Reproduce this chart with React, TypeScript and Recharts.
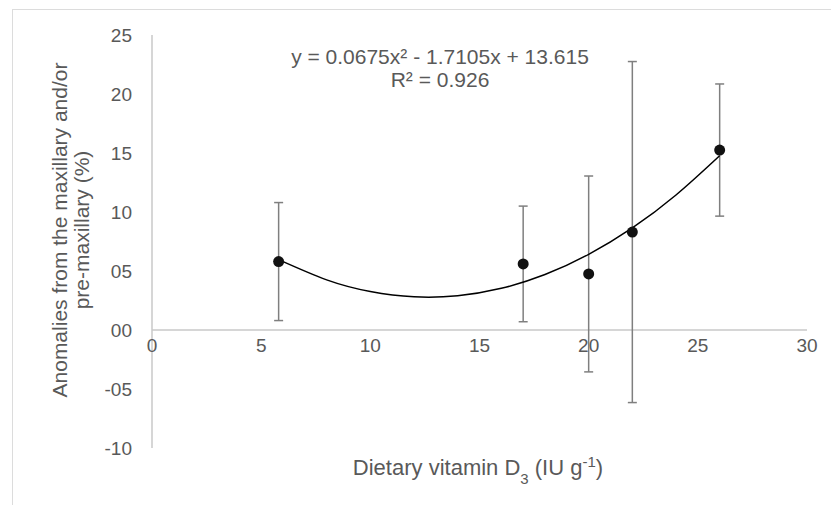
import React from 'react';
import { ComposedChart, Scatter, Line, XAxis, YAxis, ErrorBar, ReferenceLine } from 'recharts';

const doses = [5.8, 17, 20, 22, 26];
const anomalies = [5.8, 5.6, 4.75, 8.3, 15.25];
const errors = [5.0, 4.9, 8.3, 14.45, 5.6];

const trendX = [5.8, 8, 10, 12, 14, 16, 18, 20, 22, 24, 26];
const trendY = [5.96, 4.25, 3.26, 2.81, 2.9, 3.53, 4.7, 6.41, 8.65, 11.44, 14.77];

const xTicks = [0, 5, 10, 15, 20, 25, 30];
const yTicks = [-10, -5, 0, 5, 10, 15, 20, 25];

const equationText = 'y = 0.0675x² - 1.7105x + 13.615';
const r2Text = 'R² = 0.926';
const yTitle1 = 'Anomalies from the maxillary and/or';
const yTitle2 = 'pre-maxillary (%)';

const points = doses.map((x, i) => ({ x, y: anomalies[i], err: errors[i] }));
const trend = trendX.map((x, i) => ({ x, y: trendY[i] }));

const FONT = "'Liberation Sans', Arial, sans-serif";
const TXT = '#595959';
const AXIS = '#c8c8c8';
const FS = 19;
const FT = 21;
const X_LABEL_SHIFT = 109;

const fmtY = (v: number) => {
  const a = Math.abs(v);
  const s = a < 10 ? '0' + a : String(a);
  return v < 0 ? '-' + s : s;
};

const XTick = (props: any) => {
  const { x, y, payload } = props;
  return (
    <text x={x} y={y - X_LABEL_SHIFT} dy="0.71em" textAnchor="middle" fill={TXT} fontSize={FS} fontFamily={FONT}>
      {payload.value}
    </text>
  );
};

const Dot = (props: any) => <circle cx={props.cx} cy={props.cy} r={5.5} fill="#111" />;

export default function App() {
  return (
    <div style={{ position: 'relative', width: 831, height: 505, overflow: 'hidden', background: '#fff', fontFamily: FONT }}>
      <style>{`body{margin:0;overflow:hidden}`}</style>
      <div style={{ position: 'absolute', left: 12, top: 9, width: 830, height: 510, borderLeft: '1px solid #dcdcdc', borderTop: '1px solid #dcdcdc' }} />
      <div style={{ position: 'absolute', left: 0, top: 0 }}>
        <ComposedChart width={831} height={505} margin={{ top: 35, right: 24, bottom: 27, left: 92 }}>
          <XAxis
            dataKey="x"
            type="number"
            domain={[0, 30]}
            ticks={xTicks}
            interval={0}
            axisLine={false}
            tickLine={false}
            tickSize={0}
            tickMargin={0}
            height={30}
            tick={<XTick />}
          />
          <YAxis
            type="number"
            domain={[-10, 25]}
            ticks={yTicks}
            interval={0}
            width={60}
            tickFormatter={fmtY}
            tickLine={false}
            tickSize={0}
            tickMargin={20}
            axisLine={{ stroke: AXIS, strokeWidth: 1.5 }}
            tick={{ fill: TXT, fontSize: FS, fontFamily: FONT }}
            allowDataOverflow
          />
          <ReferenceLine y={0} stroke={AXIS} strokeWidth={1.5} />
          <Scatter data={points} dataKey="y" fill="#111" shape={<Dot />} isAnimationActive={false}>
            <ErrorBar dataKey="err" direction="y" width={4.5} stroke="#7f7f7f" strokeWidth={1.5} />
          </Scatter>
          <Line data={trend} dataKey="y" type="natural" stroke="#000" strokeWidth={1.5} dot={false} activeDot={false} isAnimationActive={false} />
        </ComposedChart>
      </div>
      <svg width={831} height={505} style={{ position: 'absolute', left: 0, top: 0, pointerEvents: 'none' }} fontFamily={FONT}>
        <text x={440} y={64} textAnchor="middle" fill={TXT} fontSize={FT}>{equationText}</text>
        <text x={440} y={87} textAnchor="middle" fill={TXT} fontSize={FT}>{r2Text}</text>
        <text x={478} y={475} textAnchor="middle" fill={TXT} fontSize={22}>
          Dietary vitamin D<tspan baselineShift="sub" fontSize={15}>3</tspan>
          <tspan> (IU g</tspan>
          <tspan baselineShift="super" fontSize={15}>-1</tspan>
          <tspan>)</tspan>
        </text>
        <text transform="translate(67,230) rotate(-90)" textAnchor="middle" fill={TXT} fontSize={FT}>{yTitle1}</text>
        <text transform="translate(89,230) rotate(-90)" textAnchor="middle" fill={TXT} fontSize={FT}>{yTitle2}</text>
      </svg>
    </div>
  );
}
